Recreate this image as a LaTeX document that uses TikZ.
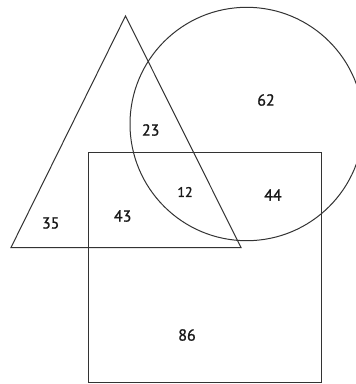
\documentclass[tikz,border=0pt]{standalone}
\usepackage{fontspec}
\setmainfont{PT Sans}
\newfontfamily\numfont[FakeBold=1.2]{PT Sans}
\begin{document}
\begin{tikzpicture}[x=1pt,y=-1pt,
  shapeline/.style={draw=black!80,line width=1pt},
  num/.style={font=\numfont\fontsize{16}{16}\selectfont,text=black!90,inner sep=0pt}]
\useasboundingbox (0,0) rectangle (356,384);
\clip (0,0) rectangle (356,384);
\fill[white] (0,0) rectangle (356,384);
\coordinate (apex) at (125.5,16);
\coordinate (bl) at (11,247.5);
\coordinate (br) at (241,247.5);
\draw[shapeline] (apex) -- (bl) -- (br) -- cycle;
\draw[shapeline] (246.7,124) circle[radius=116.7];
\draw[shapeline] (88,152) rectangle (321,382);
\node[num] (n62) at (266,100) {62};
\node[num] (n23) at (150.7,130) {23};
\node[num,font=\numfont\fontsize{14}{14}\selectfont] (n12) at (185,192) {12};
\node[num] (n44) at (273,195) {44};
\node[num] (n35) at (50.7,223) {35};
\node[num] (n43) at (122.7,216) {43};
\node[num] (n86) at (187,335) {86};
\end{tikzpicture}
\end{document}
